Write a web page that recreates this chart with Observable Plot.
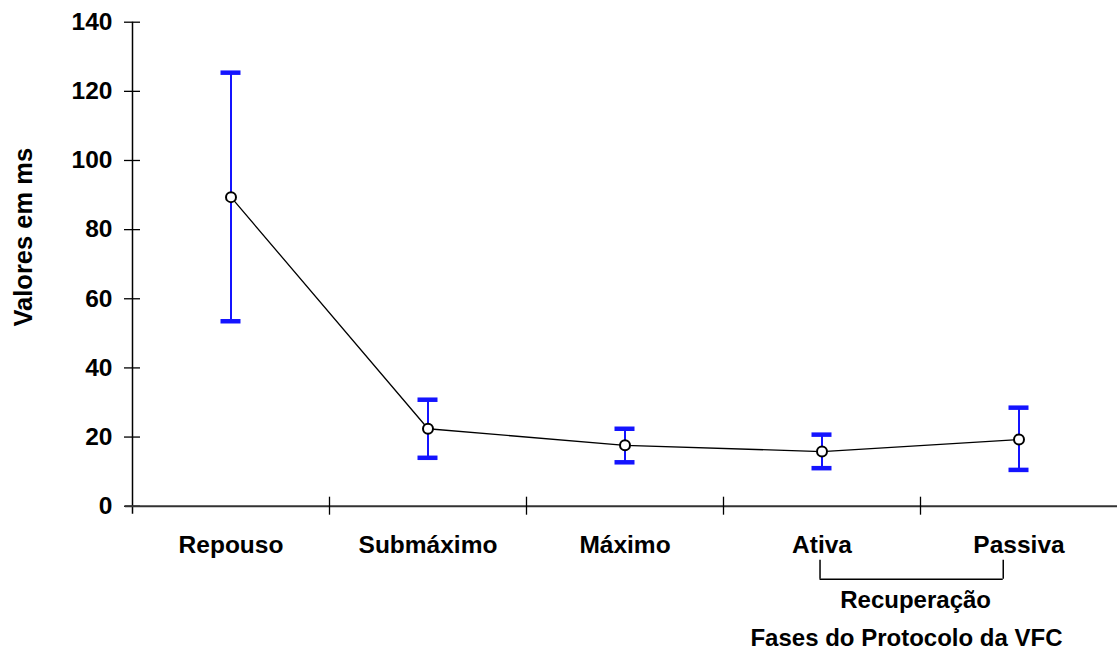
<!DOCTYPE html>
<html>
<head>
<meta charset="utf-8">
<script src="https://cdn.jsdelivr.net/npm/d3@7"></script>
<script src="https://cdn.jsdelivr.net/npm/@observablehq/plot@0.6"></script>
<style>
  html, body { margin: 0; padding: 0; background: white; }
</style>
</head>
<body>
<div id="chart"></div>
<script>
const categories = ["Repouso", "Submáximo", "Máximo", "Ativa", "Passiva"];
const means = [89.4, 22.4, 17.6, 15.8, 19.3];
const upper = [125.4, 30.8, 22.4, 20.7, 28.5];
const lower = [53.5, 14.0, 12.7, 11.0, 10.5];
const yTicks = [0, 20, 40, 60, 80, 100, 120, 140];
const yLabel = "Valores em ms";
const xLabel = "Fases do Protocolo da VFC";
const groupLabel = "Recuperação";
const groupMembers = ["Ativa", "Passiva"];

const data = categories.map((c, i) => ({cat: c, i, mean: means[i], hi: upper[i], lo: lower[i]}));
const boundaries = d3.range(categories.length).map(i => i - 0.5);
const gA = categories.indexOf(groupMembers[0]);
const gB = categories.indexOf(groupMembers[1]);
const bracket = [gA - 0.01, gB - 0.08];
const FONT = "Liberation Sans, Arial, sans-serif";
const blue = "#1414ff";

const chart = Plot.plot({
  width: 1117,
  height: 662,
  marginLeft: 132,
  marginRight: 0,
  marginTop: 21.7,
  marginBottom: 156.3,
  style: {fontFamily: FONT, background: "white", color: "black"},
  x: {type: "linear", domain: [-0.5, categories.length - 0.5], axis: null},
  y: {domain: [0, 140], axis: null},
  marks: [
    // y axis ticks + labels
    Plot.axisY({ticks: yTicks, tickSize: 8, tickPadding: 12, fontSize: 24.5, fontWeight: "bold", label: null, strokeWidth: 1.3}),
    Plot.ruleY(yTicks, {x1: -0.5, x2: -0.5, insetLeft: 0, insetRight: -8, strokeWidth: 1.3}),
    // y axis line
    Plot.ruleX([-0.5], {y1: 0, y2: 140, insetTop: 8, strokeWidth: 1.5}),
    // x axis line
    Plot.ruleY([0], {x1: -0.5, x2: categories.length - 0.5, insetLeft: -7, stroke: "#333", strokeWidth: 2}),
    // x boundary ticks
    Plot.ruleX(boundaries.slice(1), {y1: 0, y2: 0, insetTop: -9, insetBottom: -9, strokeWidth: 1.3}),
    // category labels
    Plot.text(data, {x: "i", y: 0, text: "cat", dy: 39.3, fontSize: 24.5, fontWeight: "bold"}),
    // bracket
    Plot.ruleY([0], {x1: bracket[0], x2: bracket[1], dy: 73, strokeWidth: 1.5}),
    Plot.ruleX(bracket, {y1: 0, y2: 0, insetTop: 54, insetBottom: -73, strokeWidth: 1.5}),
    Plot.text([groupLabel], {x: (bracket[0] + bracket[1]) / 2, y: 0, dx: 4, dy: 94.6, fontSize: 24, fontWeight: "bold"}),
    // x title
    Plot.text([xLabel], {x: categories.length - 0.5, y: 0, textAnchor: "end", dx: -55, dy: 132.6, fontSize: 24, fontWeight: "bold"}),
    // y title
    Plot.text([yLabel], {frameAnchor: "left", textAnchor: "middle", rotate: -90, dx: -109, dy: -27, fontSize: 25.5, fontWeight: "bold"}),
    // error bars
    Plot.ruleX(data, {x: "i", y1: "lo", y2: "hi", stroke: blue, strokeWidth: 2}),
    Plot.ruleY(data, {y: "hi", x1: "i", x2: "i", insetLeft: -10, insetRight: -10, stroke: blue, strokeWidth: 4.5}),
    Plot.ruleY(data, {y: "lo", x1: "i", x2: "i", insetLeft: -10, insetRight: -10, stroke: blue, strokeWidth: 4.5}),
    // mean line + points
    Plot.line(data, {x: "i", y: "mean", stroke: "black", strokeWidth: 1.3}),
    Plot.dot(data, {x: "i", y: "mean", r: 5, fill: "white", stroke: "black", strokeWidth: 2})
  ]
});
document.getElementById("chart").appendChild(chart);
</script>
</body>
</html>
